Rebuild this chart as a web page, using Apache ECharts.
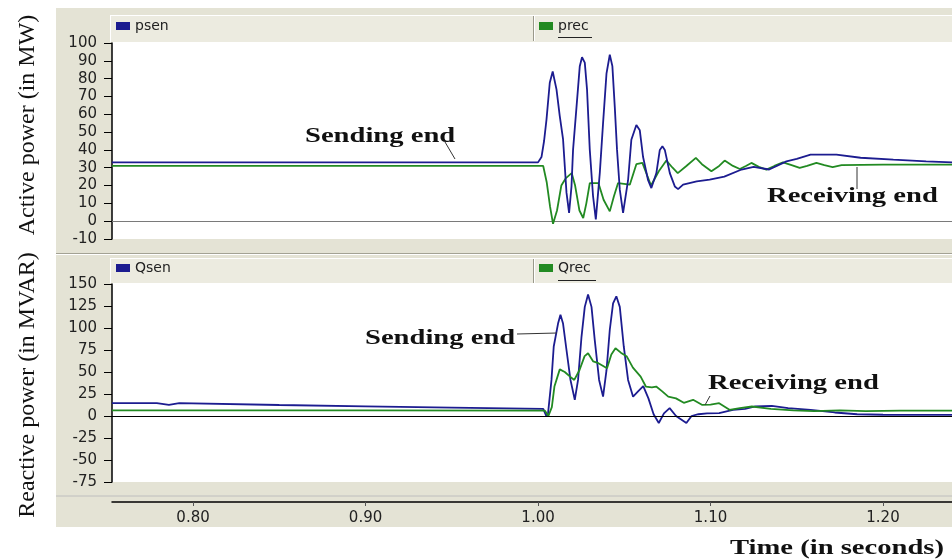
<!DOCTYPE html>
<html>
<head>
<meta charset="utf-8">
<script src="https://cdn.jsdelivr.net/npm/echarts@6/dist/echarts.min.js"></script>
<style>html,body{margin:0;padding:0;background:#fff}#c{width:952px;height:560px}</style>
</head>
<body>
<div id="c"></div>
<script>
// ---- Data ----
const seriesNames = ['psen', 'prec', 'Qsen', 'Qrec'];
const xTicks = [0.80, 0.90, 1.00, 1.10, 1.20];

const psenT = [0.753,0.80,0.85,0.90,0.95,1.000,1.002,1.0035,1.0049,1.0068,1.0085,1.0107,1.0126,1.0145,1.0165,1.018,1.0194,1.0203,1.0223,1.0242,1.0255,1.0271,1.0284,1.030,1.0319,1.0335,1.0358,1.0377,1.0397,1.0416,1.0431,1.0445,1.0458,1.0474,1.0493,1.0522,1.0541,1.057,1.059,1.0609,1.0638,1.0657,1.0686,1.0706,1.0721,1.0735,1.0764,1.0793,1.0812,1.0841,1.092,1.0995,1.108,1.118,1.125,1.134,1.144,1.150,1.158,1.173,1.187,1.206,1.225,1.24];
const psenV = [33,33,33,33,33,33,36,45,57,77.7,84,74,59,46,16,4.6,19.5,40,64,87,92,89,74,40,14,1,27,55,83,93.4,87,64,40,17.7,4.6,23,45.7,54,51,36,23,18.6,27,40,42,40,27,19.5,18,20.5,22.3,23.3,25,29,30.5,29,33.6,35,37.3,37.3,35.6,34.5,33.6,33];

const precT = [0.753,0.85,0.95,1.003,1.005,1.007,1.0087,1.011,1.0135,1.016,1.0195,1.0215,1.024,1.0262,1.028,1.030,1.035,1.038,1.0416,1.044,1.0464,1.0532,1.057,1.0605,1.0655,1.070,1.0744,1.078,1.081,1.086,1.0915,1.095,1.1005,1.105,1.1082,1.113,1.117,1.1205,1.1237,1.128,1.1324,1.137,1.142,1.147,1.1517,1.156,1.1614,1.166,1.1708,1.176,1.20,1.24];
const precV = [31,31,31,31,22,8,-1.5,6,20,24,27,20,6,1.8,10,21.4,21.4,12,5.5,14,21.4,20.5,32,32.7,20,28,34,30,27,31,35.5,32,28,31,34,31,29.3,31,32.7,30.5,28.9,31,33,31.5,29.9,31,32.7,31.5,30.4,31.5,31.7,31.7];

const qsenT = [0.753,0.779,0.7795,0.786,0.7865,0.792,0.7925,0.85,0.90,0.95,1.003,1.0049,1.0058,1.0078,1.0091,1.0116,1.0130,1.0145,1.0165,1.0188,1.0213,1.0232,1.0252,1.0271,1.0290,1.0310,1.0329,1.0354,1.0377,1.0397,1.0416,1.0435,1.0454,1.0474,1.0497,1.0522,1.0551,1.058,1.061,1.064,1.067,1.070,1.073,1.0763,1.080,1.086,1.089,1.093,1.098,1.105,1.113,1.120,1.126,1.1355,1.145,1.158,1.172,1.185,1.20,1.24];
const qsenV = [14.6,14.6,12.7,12.7,14.6,14.6,12.7,12.5,11,9.5,8,-0.5,3,41,79,105,115,105,75,41,18.4,41,90,124,138,124,86,41,22,52,98,128,136,124,79,41,22,28,34,20,2,-8,3,9,0,-8,0,2,3,3.3,7,8,10.8,11.6,9,7,4,2,1.4,1.2];

const qrecT = [0.753,0.90,1.004,1.006,1.008,1.0095,1.0126,1.0155,1.0184,1.021,1.024,1.027,1.029,1.032,1.035,1.040,1.0425,1.0449,1.048,1.0515,1.055,1.0595,1.0625,1.066,1.0685,1.072,1.0755,1.080,1.0845,1.0899,1.095,1.100,1.105,1.111,1.117,1.124,1.135,1.148,1.160,1.175,1.19,1.21,1.24];
const qrecV = [6.5,6.5,6,0,10,33.5,53,50,45,41,52,68,71.3,62,60,54.3,70,77,72,67.5,55,44.8,33.5,32.5,33.5,28,22,20,15,18.4,12.7,13,14.6,7,9,10.8,8,6.5,5.5,6.5,5.5,6.2,6.2];

// ---- Styling ----
const BLUE = '#1c1c90', GREEN = '#228a22';
const BG = '#e4e3d5', STRIP = '#ecebe0', EDGE = '#a3a294';
const SANS = 'DejaVu Sans', SERIF = 'Liberation Serif';

const pairs = (t, v) => t.map((x, i) => [x, v[i]]);

const chart = echarts.init(document.getElementById('c'));

const yAxisBase = {
  type: 'value',
  axisLine: { show: true, lineStyle: { color: '#000', width: 1.5 } },
  axisTick: { show: true, inside: false, length: 8, lineStyle: { color: '#000' } },
  axisLabel: { color: '#222', fontSize: 15, fontFamily: SANS, margin: 15 },
  splitLine: { show: false }
};

const legendBase = {
  padding: 0, icon: 'rect', itemWidth: 14, itemHeight: 8, selectedMode: false,
  textStyle: { color: '#222', fontSize: 14, fontFamily: SANS }
};

function ann(text, x, y) {
  return { type: 'text', x: x, y: y, scaleX: 1.3, z: 100,
    style: { text: text, font: 'bold 22px "' + SERIF + '"', fill: '#111', textAlign: 'left', textVerticalAlign: 'middle' } };
}
function seg(x1, y1, x2, y2, color, w, z) {
  return { type: 'line', z: z === undefined ? 100 : z, shape: { x1, y1, x2, y2 }, style: { stroke: color || '#333', lineWidth: w || 1 } };
}

const option = {
  animation: false,
  backgroundColor: '#fff',
  grid: [
    { left: 112, top: 43, width: 840, height: 196 },
    { left: 112, top: 284, width: 840, height: 198 }
  ],
  xAxis: [
    { type: 'value', gridIndex: 0, min: 0.753, max: 1.24,
      axisLine: { show: true, onZero: true, lineStyle: { color: '#7a7a7a', width: 1 } },
      axisTick: { show: false }, axisLabel: { show: false }, splitLine: { show: false } },
    { type: 'value', gridIndex: 1, min: 0.753, max: 1.24, position: 'bottom', offset: 20,
      axisLine: { show: true, onZero: false, lineStyle: { color: '#000', width: 1.5 } },
      axisTick: { show: true, inside: false, length: 4, customValues: xTicks, lineStyle: { color: '#555' } },
      axisLabel: { show: true, customValues: xTicks, formatter: v => v.toFixed(2), color: '#222', fontSize: 15, fontFamily: SANS, margin: 9 },
      splitLine: { show: false } }
  ],
  yAxis: [
    Object.assign({}, yAxisBase, { gridIndex: 0, min: -10, max: 100, interval: 10 }),
    Object.assign({}, yAxisBase, { gridIndex: 1, min: -75, max: 150, interval: 25 })
  ],
  legend: [
    Object.assign({}, legendBase, { data: [seriesNames[0]], left: 116, top: 19 }),
    Object.assign({}, legendBase, { data: [seriesNames[1]], left: 539, top: 19 }),
    Object.assign({}, legendBase, { data: [seriesNames[2]], left: 116, top: 261 }),
    Object.assign({}, legendBase, { data: [seriesNames[3]], left: 539, top: 261 })
  ],
  series: [
    { name: seriesNames[1], type: 'line', xAxisIndex: 0, yAxisIndex: 0, data: pairs(precT, precV),
      showSymbol: false, lineStyle: { color: GREEN, width: 1.8 }, itemStyle: { color: GREEN } },
    { name: seriesNames[0], type: 'line', xAxisIndex: 0, yAxisIndex: 0, data: pairs(psenT, psenV),
      showSymbol: false, lineStyle: { color: BLUE, width: 1.8 }, itemStyle: { color: BLUE } },
    { name: seriesNames[2], type: 'line', xAxisIndex: 1, yAxisIndex: 1, data: pairs(qsenT, qsenV),
      showSymbol: false, lineStyle: { color: BLUE, width: 1.8 }, itemStyle: { color: BLUE },
      markLine: { silent: true, symbol: 'none', label: { show: false }, lineStyle: { color: '#000', width: 1.2, type: 'solid' }, data: [{ yAxis: 0 }] } },
    { name: seriesNames[3], type: 'line', xAxisIndex: 1, yAxisIndex: 1, data: pairs(qrecT, qrecV),
      showSymbol: false, lineStyle: { color: GREEN, width: 1.8 }, itemStyle: { color: GREEN } }
  ],
  graphic: [
    // panel backgrounds
    { type: 'rect', z: -10, shape: { x: 56, y: 8, width: 896, height: 245 }, style: { fill: BG } },
    seg(56, 253.5, 952, 253.5, EDGE, 1, -9),
    { type: 'rect', z: -10, shape: { x: 56, y: 255, width: 896, height: 240 }, style: { fill: BG } },
    seg(56, 496, 952, 496, EDGE, 1, -9),
    { type: 'rect', z: -10, shape: { x: 56, y: 497, width: 896, height: 30 }, style: { fill: BG } },
    // legend strips
    { type: 'rect', z: -9, shape: { x: 110, y: 15, width: 842, height: 27 }, style: { fill: STRIP } },
    seg(110, 15.5, 952, 15.5, '#fff', 1, -8), seg(110.5, 15, 110.5, 42, '#fff', 1, -8),
    seg(533.5, 16, 533.5, 41, '#9a998b', 1, -8), seg(534.5, 16, 534.5, 41, '#fff', 1, -8),
    { type: 'rect', z: -9, shape: { x: 110, y: 258, width: 842, height: 25 }, style: { fill: STRIP } },
    seg(110, 258.5, 952, 258.5, '#fff', 1, -8), seg(110.5, 258, 110.5, 283, '#fff', 1, -8),
    seg(533.5, 259, 533.5, 283, '#9a998b', 1, -8), seg(534.5, 259, 534.5, 283, '#fff', 1, -8),
    // underline under prec / Qrec
    seg(558, 37.5, 592, 37.5, '#222', 1, 5),
    seg(558, 280.5, 596, 280.5, '#222', 1, 5),
    // plot areas
    { type: 'rect', z: -8, shape: { x: 112, y: 42, width: 840, height: 197 }, style: { fill: '#fff' } },
    { type: 'rect', z: -8, shape: { x: 112, y: 283, width: 840, height: 199 }, style: { fill: '#fff' } },
    // axis titles
    { type: 'text', x: 28, y: 125, rotation: Math.PI / 2, z: 100,
      style: { text: 'Active power (in MW)', font: '24px "' + SERIF + '"', fill: '#111', textAlign: 'center', textVerticalAlign: 'middle' } },
    { type: 'text', x: 28, y: 385, rotation: Math.PI / 2, z: 100,
      style: { text: 'Reactive power (in MVAR)', font: '24px "' + SERIF + '"', fill: '#111', textAlign: 'center', textVerticalAlign: 'middle' } },
    { type: 'text', x: 730, y: 548, scaleX: 1.3, z: 100,
      style: { text: 'Time (in seconds)', font: 'bold 22px "' + SERIF + '"', fill: '#111', textAlign: 'left', textVerticalAlign: 'middle' } },
    // annotations
    ann('Sending end', 305, 136), seg(445, 142, 455, 159),
    ann('Receiving end', 767, 196), seg(857, 167, 857, 189),
    ann('Sending end', 365, 338), seg(517, 334, 557, 333),
    ann('Receiving end', 708, 383), seg(710, 396, 705, 405)
  ]
};
chart.setOption(option);
</script>
</body>
</html>
